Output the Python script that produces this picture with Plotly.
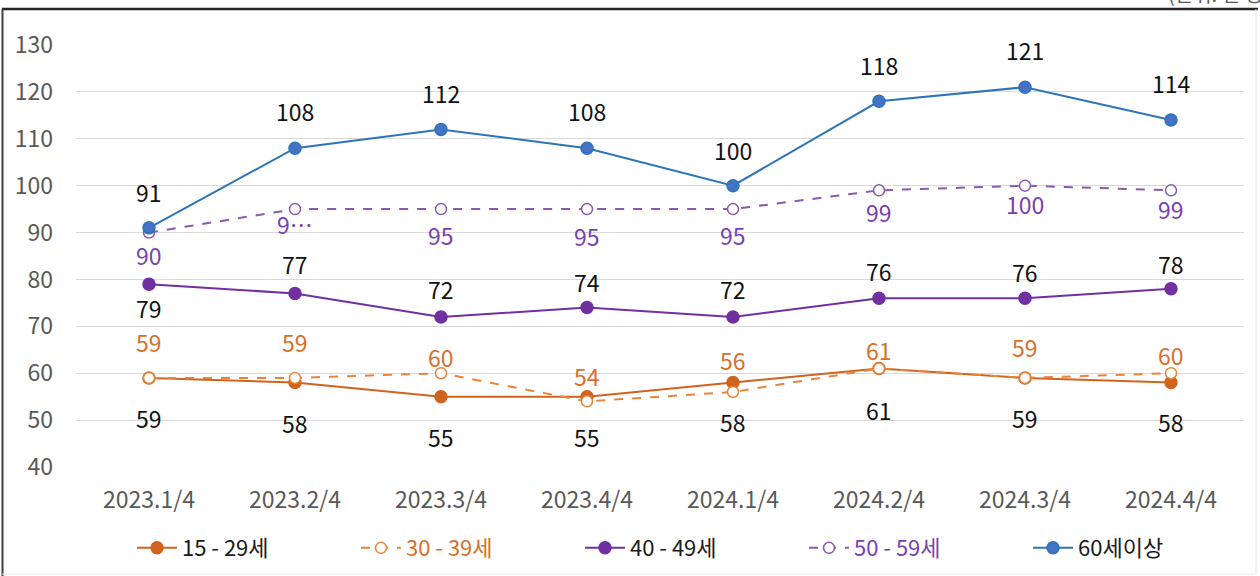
import plotly.graph_objects as go

categories = ["2023.1/4", "2023.2/4", "2023.3/4", "2023.4/4",
              "2024.1/4", "2024.2/4", "2024.3/4", "2024.4/4"]
age_15_29 = [59, 58, 55, 55, 58, 61, 59, 58]
age_30_39 = [59, 59, 60, 54, 56, 61, 59, 60]
age_40_49 = [79, 77, 72, 74, 72, 76, 76, 78]
age_50_59 = [90, 95, 95, 95, 95, 99, 100, 99]
age_60_up = [91, 108, 112, 108, 100, 118, 121, 114]
y_ticks = [40, 50, 60, 70, 80, 90, 100, 110, 120, 130]

label_50_59 = ["90", "9…", "95", "95", "95", "99", "100", "99"]

W, H = 1260, 576
L, R, T, B = 76, 1244, 45, 467
FONT = "Noto Sans CJK KR, Roboto, sans-serif"

def px_x(px):
    return (px - L) / (R - L)

def px_y(py):
    return (B - py) / (B - T)

series = [
    dict(name="15 - 29세", legend_color="#1a1a1a", y=age_15_29, line="#D0641E",
         dash="solid", fill="#D0641E", lab_color="#111111",
         shifts=[-40, -40, -40, -40, -39, -41, -40, -39], labels=None),
    dict(name="30 - 39세", legend_color="#D8702A", y=age_30_39, line="#E8853A",
         dash="dash", fill="white", lab_color="#D8702A",
         shifts=[36, 36, 16, 25, 32, 19, 31, 18], labels=None),
    dict(name="40 - 49세", legend_color="#1a1a1a", y=age_40_49, line="#7030A0",
         dash="solid", fill="#7030A0", lab_color="#111111",
         shifts=[-24, 30, 28, 26, 28, 27, 26, 25], labels=None),
    dict(name="50 - 59세", legend_color="#7A3FB0", y=age_50_59, line="#8A5AAE",
         dash="dash", fill="white", lab_color="#7A3FB0",
         shifts=[-22, -15, -26, -27, -26, -22, -18, -19], labels=label_50_59),
    dict(name="60세이상", legend_color="#1a1a1a", y=age_60_up, line="#2E75B6",
         dash="solid", fill="#4472C4", lab_color="#111111",
         shifts=[36, 37, 36, 37, 36, 36, 37, 37], labels=None),
]

fig = go.Figure()
annotations = []
for s in series:
    fig.add_trace(go.Scatter(
        x=categories, y=s["y"], mode="lines+markers",
        name=f"<span style='color:{s['legend_color']}'>{s['name']}</span>",
        line=dict(color=s["line"], width=2, dash=s["dash"]),
        marker=dict(size=12 if s["fill"] != "white" else 11, color=s["fill"],
                    line=dict(color=s["line"], width=1.5)),
    ))
    labels = s["labels"] or [str(v) for v in s["y"]]
    for c, v, t, sh in zip(categories, s["y"], labels, s["shifts"]):
        annotations.append(dict(
            x=c, y=v, text=t, showarrow=False, yshift=sh,
            xanchor="center", yanchor="middle",
            font=dict(size=23, color=s["lab_color"], family=FONT),
        ))

# unit note, mostly cut off at the top edge as in the reference
annotations.append(dict(
    xref="paper", yref="paper", x=px_x(1272), y=px_y(-7), text="(단위: 천 명)",
    showarrow=False, xanchor="right", yanchor="middle",
    font=dict(size=20, color="#595959", family=FONT),
))

shapes = [
    dict(type="line", xref="paper", yref="paper", x0=px_x(2), x1=px_x(1258),
         y0=px_y(9), y1=px_y(9), line=dict(color="#262626", width=2.5)),
    dict(type="line", xref="paper", yref="paper", x0=px_x(2.5), x1=px_x(2.5),
         y0=px_y(9), y1=px_y(576), line=dict(color="#404040", width=2)),
    dict(type="line", xref="paper", yref="paper", x0=px_x(1256), x1=px_x(1256),
         y0=px_y(9), y1=px_y(574), line=dict(color="#E6E6E6", width=1)),
    dict(type="line", xref="paper", yref="paper", x0=px_x(2), x1=px_x(1256),
         y0=px_y(574), y1=px_y(574), line=dict(color="#E6E6E6", width=1)),
]

fig.update_layout(
    width=W, height=H,
    margin=dict(l=L, r=W - R, t=T, b=H - B, autoexpand=False),
    paper_bgcolor="white", plot_bgcolor="white",
    font=dict(family=FONT, color="#595959"),
    showlegend=True,
    legend=dict(orientation="h", x=px_x(132), xanchor="left",
                y=px_y(548), yanchor="middle",
                font=dict(size=22, color="#1a1a1a", family=FONT),
                entrywidth=169, entrywidthmode="pixels",
                itemwidth=40, bgcolor="rgba(0,0,0,0)"),
    annotations=annotations,
    shapes=shapes,
    xaxis=dict(type="category", range=[-0.5, 7.5], showgrid=False,
               showline=False, zeroline=False, ticks="",
               tickfont=dict(size=23, color="#595959", family=FONT),
               ticklabelstandoff=17),
    yaxis=dict(range=[40, 130], tickvals=y_ticks, showgrid=True,
               gridcolor="#D9D9D9", gridwidth=1, zeroline=False,
               showline=False, ticks="",
               tickfont=dict(size=23, color="#595959", family=FONT),
               ticklabelstandoff=22),
)

fig.write_html("out.html",
               config={"displayModeBar": False},
               post_script="document.body.style.margin='0';"
                           "document.body.style.overflow='hidden';")
